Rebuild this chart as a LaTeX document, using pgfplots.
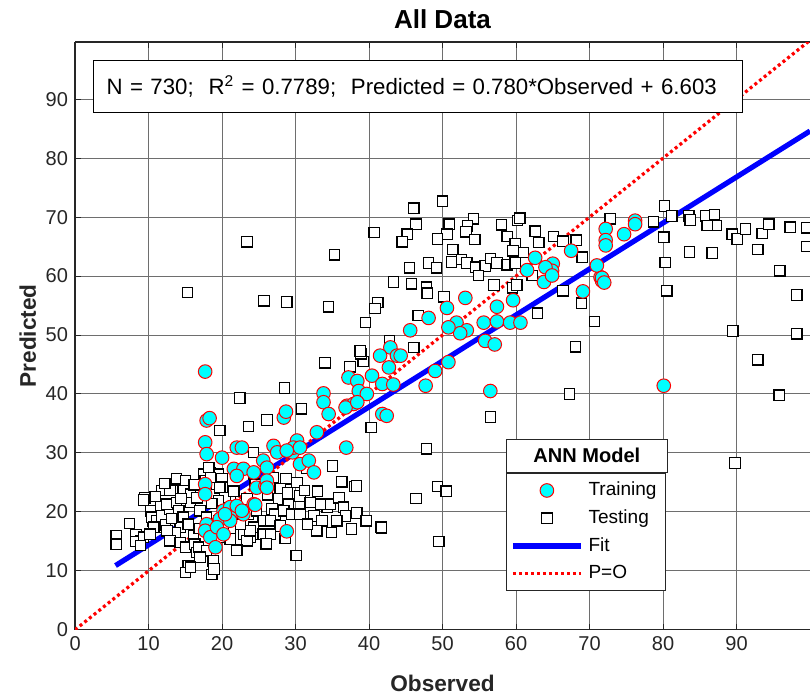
\documentclass[border=0pt]{standalone}
\usepackage{fontspec}
\setmainfont{Liberation Sans}
\usepackage{pgfplots}
\pgfplotsset{compat=1.18}
\usetikzlibrary{calc}
\definecolor{axgray}{HTML}{262626}
\definecolor{gridgray}{HTML}{6E6E6E}
\definecolor{trcyan}{RGB}{0,255,255}
\definecolor{trred}{RGB}{255,0,0}
\definecolor{fitblue}{RGB}{0,0,255}

% testing points (observed, predicted)
\pgfplotstableread{
x y
5.6 16.0
5.6 14.5
7.4 18.0
8.3 16.1
8.9 15.1
8.2 15.0
9.3 15.7
8.9 14.3
9.5 22.4
9.3 22.0
10.3 20.2
10.6 18.5
10.4 19.1
11.1 18.5
11.6 17.4
10.7 17.4
10.2 16.2
11.6 21.1
11.8 19.3
12.3 17.8
12.9 20.5
13.8 25.6
15.0 25.3
13.4 23.6
11.8 23.6
12.9 23.6
12.5 21.3
13.8 21.6
14.1 20.2
14.7 23.6
15.7 23.0
15.7 21.6
16.6 22.4
14.7 19.1
14.3 17.4
13.6 16.5
15.4 17.9
12.5 16.8
12.9 15.1
14.3 14.8
15.0 14.0
16.1 15.9
16.3 14.5
16.6 13.1
16.8 14.0
17.9 13.4
17.0 12.3
15.4 10.9
15.0 9.7
15.7 10.6
18.8 11.7
18.6 9.4
18.9 10.3
17.5 26.4
17.7 25.3
18.4 26.7
19.5 26.4
19.3 24.7
20.0 25.6
20.0 24.2
17.0 20.2
17.9 19.1
19.7 33.8
22.4 39.3
23.6 34.5
26.1 35.6
28.5 41.0
30.8 37.5
30.1 12.6
32.9 16.7
35.0 27.8
38.1 24.3
38.3 19.7
24.3 30.1
21.1 21.9
22.0 20.8
23.4 22.2
23.6 19.6
24.7 20.2
25.6 18.5
21.1 16.8
22.9 16.2
23.8 15.9
24.7 16.2
24.3 17.4
25.6 16.2
19.5 18.5
20.2 17.4
20.0 15.7
21.1 15.4
19.3 16.5
23.8 15.7
23.4 15.1
28.7 25.6
30.2 25.0
27.9 23.9
27.7 22.2
29.0 21.3
30.6 22.7
32.0 21.6
24.3 26.4
24.5 24.7
26.8 20.5
27.2 19.6
28.4 20.2
26.6 18.5
27.9 17.6
29.5 19.6
30.6 19.6
32.5 19.3
33.6 18.5
34.3 20.8
34.7 21.3
35.9 22.4
36.5 20.8
36.8 19.3
38.4 19.9
39.5 18.5
35.6 18.5
33.4 21.3
23.8 16.8
26.6 16.2
32.9 16.8
19.7 24.1
20.4 22.4
19.5 21.9
18.4 25.8
18.2 27.5
41.6 17.4
10.9 22.6
12.2 24.8
14.4 22.3
16.2 24.6
13.1 18.9
16.9 17.2
18.6 21.4
21.6 23.5
22.5 17.9
26.2 22.9
27.0 25.8
28.9 23.2
31.2 23.6
33.0 23.5
31.6 17.9
34.9 16.5
37.6 17.1
26.0 14.6
28.6 15.5
22.0 13.5
31.5 27.4
36.3 25.1
34.0 45.3
37.4 44.6
39.2 45.5
38.9 46.8
38.8 47.3
42.8 49.0
39.5 52.1
41.2 55.5
40.8 54.5
15.3 57.2
23.4 65.8
25.7 55.8
28.8 55.6
35.3 63.6
40.7 67.4
43.3 58.9
34.5 54.8
50.0 72.7
46.1 71.5
46.4 68.8
45.2 67.1
44.5 65.8
50.9 68.8
50.6 67.1
49.3 66.3
54.2 69.7
53.4 68.5
53.2 67.5
54.4 66.2
51.4 64.5
51.2 62.4
52.6 62.8
53.3 62.2
54.5 61.5
55.8 61.7
56.5 63.0
57.4 62.2
58.8 61.9
59.9 62.2
58.0 68.7
58.8 66.7
59.9 65.5
60.2 69.4
60.5 69.8
62.6 67.6
63.1 65.7
65.1 66.7
66.4 65.9
68.2 66.1
69.0 63.2
59.6 64.3
61.0 64.0
62.2 60.1
57.0 58.5
59.5 58.0
60.1 58.5
54.9 60.1
45.5 61.4
43.3 59.0
45.8 58.7
47.8 58.1
47.9 57.1
50.2 56.5
48.1 62.2
49.2 61.4
46.7 53.3
46.1 47.9
62.9 53.7
68.9 55.4
70.7 52.3
68.1 48.0
67.3 40.0
66.4 57.5
72.8 69.7
80.2 71.9
78.7 69.2
81.2 70.2
83.5 70.2
83.7 69.5
85.8 70.2
87.0 70.4
87.3 68.6
86.0 68.6
89.4 67.1
90.1 66.3
91.2 68.0
93.5 67.2
94.4 68.8
97.3 68.3
99.5 68.2
92.9 64.5
99.5 65.0
80.1 66.6
80.3 62.3
83.6 64.1
86.7 63.9
95.9 60.9
80.5 57.5
98.2 56.8
89.5 50.7
98.2 50.2
92.9 45.8
95.8 39.8
89.8 28.3
40.3 34.3
47.8 30.7
38.3 24.4
49.3 24.3
50.5 23.5
46.4 22.3
38.3 19.8
39.6 18.5
41.7 17.3
49.5 15.0
56.5 36.1
}\testing

% training points (observed, predicted)
\pgfplotstableread{
x y
17.7 43.8
17.9 35.5
18.3 35.9
17.7 31.8
17.9 29.8
17.7 24.7
17.7 23.0
17.9 17.9
17.7 16.8
18.4 15.7
19.1 14.0
20.0 29.2
22.0 30.9
22.7 30.9
21.6 27.3
22.9 27.3
22.0 26.1
24.3 26.7
25.6 28.7
26.1 27.5
24.7 24.1
25.9 24.4
20.2 20.2
21.1 20.8
22.0 20.2
22.9 19.6
19.7 18.8
21.1 18.5
19.3 17.4
20.2 16.2
22.0 21.0
24.3 21.3
26.1 25.3
26.1 24.1
28.4 36.0
28.7 37.0
30.2 32.1
29.6 30.1
30.6 28.1
31.8 28.7
32.5 26.7
33.8 40.1
33.8 38.6
34.5 36.6
37.0 38.0
37.9 38.3
36.9 30.9
28.8 16.7
32.9 33.5
24.5 21.2
22.7 20.2
20.4 19.6
27.0 31.2
27.5 30.1
29.7 30.9
30.6 30.9
42.9 47.9
43.8 46.5
41.5 46.5
42.7 44.5
40.4 43.1
37.2 42.8
38.4 42.2
38.6 40.5
39.7 40.0
41.8 41.7
36.8 37.7
38.4 38.6
41.8 36.6
42.4 36.3
28.8 30.4
59.6 55.9
57.4 54.8
53.1 56.3
50.6 54.6
48.1 52.9
45.6 50.8
51.9 52.1
53.3 50.8
55.6 52.1
57.4 52.3
59.2 52.1
60.6 52.1
52.4 50.3
55.8 49.0
57.1 48.4
50.8 51.3
44.3 46.5
49.0 43.9
50.8 45.4
43.3 41.6
47.7 41.4
56.5 40.5
67.5 64.3
62.6 63.1
65.0 62.1
64.9 60.9
64.0 61.5
61.5 61.0
63.8 59.0
64.9 60.1
69.1 57.4
71.5 59.8
71.7 59.2
72.2 68.0
72.2 66.1
72.2 65.2
74.7 67.1
76.2 69.4
76.2 68.8
71.0 61.8
71.7 59.7
72.0 58.9
80.1 41.4
}\training

\begin{document}
\begin{tikzpicture}
\begin{axis}[
  scale only axis,
  width=367pt, height=293.5pt,
  xmin=0, xmax=100, ymin=0, ymax=99.7,
  xtick={0,10,...,90}, ytick={0,10,...,90},
  axis x line*=box, axis y line*=left,
  axis line style={axgray, line width=0.7pt},
  tick align=inside, major tick length=3pt,
  tick style={axgray, line width=0.5pt},
  grid=major,
  major grid style={gridgray, line width=0.5pt},
  tick label style={font=\fontsize{10}{12}\selectfont, text=axgray},
  /pgf/number format/assume math mode=true,
  xlabel={\textbf{Observed}}, ylabel={\textbf{Predicted}},
  label style={font=\fontsize{11.3}{13}\selectfont, text=axgray},
  xlabel style={yshift=-5pt},
  ylabel style={yshift=-2pt},
  title={\textbf{All Data}},
  title style={font=\fontsize{13}{15}\selectfont, yshift=-3pt},
  clip=true,
  legend image code/.code={\draw[mark repeat=2,mark phase=2,#1] plot coordinates {(0pt,0pt) (17pt,0pt) (34pt,0pt)};},
  legend style={
    at={(rel axis cs:0.586,0.2675)}, anchor=north west,
    draw=axgray, line width=0.5pt, fill=white,
    font=\fontsize{9.5}{11}\selectfont,
    inner xsep=2pt, inner ysep=2.5pt,
    row sep=1.5pt,
    nodes={inner xsep=2.5pt},
    /tikz/every even column/.append style={column sep=0pt},
  },
  legend cell align=left,
]
\addplot[only marks, mark=square*, mark size=2.6pt,
  mark options={draw=black, fill=white, line width=0.6pt}, forget plot]
  table[x=x, y=y] {\testing};
\addplot[only marks, mark=*, mark size=3.4pt,
  mark options={draw=trred, fill=trcyan, line width=0.5pt}, forget plot]
  table[x=x, y=y] {\training};
\addplot[fitblue, line width=2.6pt, forget plot] coordinates {(5.5,10.893) (100,84.603)};
\addplot[trred, line width=1.6pt, dash pattern=on 1.5pt off 1.5pt, forget plot]
  coordinates {(0,0) (100,100)};

\addlegendimage{only marks, mark=*, mark size=3.4pt, mark options={draw=trred, fill=trcyan, line width=0.5pt}}
\addlegendentry{Training}
\addlegendimage{only marks, mark=square*, mark size=2.6pt, mark options={draw=black, fill=white, line width=0.6pt}}
\addlegendentry{Testing}
\addlegendimage{fitblue, line width=2.6pt}
\addlegendentry{Fit}
\addlegendimage{trred, line width=1.6pt, dash pattern=on 1.5pt off 1.5pt}
\addlegendentry{P=O}

\node[draw=black, line width=0.5pt, fill=white, anchor=west, inner xsep=6.5pt, inner ysep=0pt,
  text width=311pt, align=left, minimum height=26pt, text=black,
  font=\fontsize{11.1}{13}\selectfont]
  at (rel axis cs:0.0245,0.9245) {N = 730;\ \ R$^{\mathrm{2}}$ = 0.7789;\ \ Predicted = 0.780*Observed + 6.603};
\node[draw=axgray, line width=0.5pt, fill=white, anchor=south west, inner sep=0pt,
  minimum width=80.5pt, minimum height=16.5pt, font=\fontsize{10}{12}\selectfont\bfseries]
  at (rel axis cs:0.586,0.2675) {ANN Model};
\coordinate (ll) at (rel axis cs:0,0);
\coordinate (ur) at (rel axis cs:1,1);
\end{axis}
\pgfresetboundingbox
\path[use as bounding box] ($(ll)+(-37.5pt,-34pt)$) rectangle ($(ur)+(0pt,21pt)$);
\end{tikzpicture}
\end{document}
